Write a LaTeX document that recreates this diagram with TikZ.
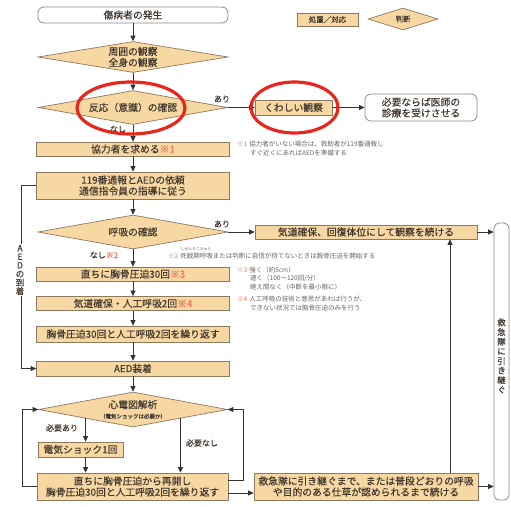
\documentclass[tikz,border=0pt]{standalone}
\usepackage{fontspec}
\setmainfont{Noto Sans CJK JP}[BoldFont=Noto Sans CJK JP, BoldFeatures={FakeBold=0.35}]
\usetikzlibrary{shapes.geometric,arrows.meta}
\definecolor{boxfill}{HTML}{F8D8A2}
\definecolor{boxline}{HTML}{8C7A5E}
\definecolor{txt}{HTML}{42382F}
\definecolor{note}{HTML}{6A6460}
\definecolor{mark}{HTML}{F07A5A}
\definecolor{ring}{HTML}{E8261C}
\definecolor{conn}{HTML}{333333}
\definecolor{termline}{HTML}{8A8A8A}
\tikzset{
  act/.style={rectangle, draw=boxline, fill=boxfill, line width=0.7pt, text=txt,
    font=\fontsize{9.8pt}{11pt}\selectfont\bfseries, inner sep=0pt, align=center},
  dec/.style={diamond, aspect=5.5, draw=boxline, fill=boxfill, line width=0.7pt, text=txt,
    font=\fontsize{9.8pt}{11pt}\selectfont\bfseries, inner sep=0pt, align=center},
  term/.style={rectangle, rounded corners=6pt, draw=termline, fill=white, line width=0.8pt,
    text=txt, font=\fontsize{9.8pt}{11pt}\selectfont\bfseries, inner sep=0pt, align=center},
  arr/.style={draw=conn, line width=0.8pt, -{Triangle[length=5.5pt,width=5pt]}},
  lbl/.style={text=txt, font=\fontsize{8pt}{9pt}\selectfont\bfseries, inner sep=0pt},
  fn/.style={text=note, font=\fontsize{6.5pt}{8pt}\selectfont, inner sep=0pt, anchor=west},
  ringline/.style={draw=ring, line width=3.2pt},
}
\begin{document}
\begin{tikzpicture}[x=1pt,y=-1pt]
\fill[white] (0,0) rectangle (511,506);
\useasboundingbox (0,0) rectangle (511,506);

% legend
\node[act, minimum width=61pt, minimum height=13pt, font=\fontsize{7.5pt}{8pt}\selectfont\bfseries] (lg1) at (327.5,19.5) {処置／対応};
\node[dec, aspect=3.2, minimum width=70pt, minimum height=22pt, font=\fontsize{7.5pt}{8pt}\selectfont\bfseries] (lg2) at (403,19) {判断};

% main column
\node[term, minimum width=190pt, minimum height=16pt] (hassei) at (133,15) {傷病者の発生};
\node[dec, minimum width=190pt, minimum height=31pt] (shui) at (133,57) {周囲の観察\\全身の観察};
\node[dec, minimum width=189pt, minimum height=34pt] (hanno) at (133,107.5) {反応（意識）の確認};
\node[act, minimum width=77pt, minimum height=15pt] (kuwashii) at (293.5,107.5) {くわしい観察};
\node[term, minimum width=112pt, minimum height=27pt] (ishi) at (421,107.5) {必要ならば医師の\\診療を受けさせる};
\node[act, minimum width=193pt, minimum height=14pt] (kyoryoku) at (133,149) {協力者を求める\textcolor{mark}{※1}};
\node[act, minimum width=193pt, minimum height=27pt] (tsuho) at (133,185.5) {119番通報とAEDの依頼\\通信指令員の指導に従う};
\node[dec, minimum width=190pt, minimum height=34pt] (kokyu) at (133,232) {呼吸の確認};
\node[act, minimum width=222pt, minimum height=14pt] (kido) at (366,232) {気道確保、回復体位にして観察を続ける};
\node[act, minimum width=193pt, minimum height=14pt] (asshaku) at (133,274) {直ちに胸骨圧迫30回\textcolor{mark}{※3}};
\node[act, minimum width=193pt, minimum height=14pt] (jinko) at (133,303.5) {気道確保・人工呼吸2回\textcolor{mark}{※4}};
\node[act, minimum width=193pt, minimum height=16pt] (kurikaeshi) at (133,334) {胸骨圧迫30回と人工呼吸2回を繰り返す};
\node[act, minimum width=193pt, minimum height=15pt] (aed) at (133,368.5) {AED装着};
\node[dec, minimum width=189pt, minimum height=35pt] (shinden) at (133,409.5) {心電図解析\\[-1pt]{\fontsize{5.5pt}{6pt}\selectfont（電気ショックは必要か）}};
\node[act, minimum width=85pt, minimum height=15pt] (denki) at (80.5,449.5) {電気ショック1回};
\node[act, minimum width=191pt, minimum height=27pt] (saikai) at (132.5,486.5) {直ちに胸骨圧迫から再開し\\胸骨圧迫30回と人工呼吸2回を繰り返す};
\node[act, minimum width=224pt, minimum height=27pt] (hikitsugu) at (366,486.5) {救急隊に引き継ぐまで、または普段どおりの呼吸\\や目的のある仕草が認められるまで続ける};
\node[term, rounded corners=5pt, minimum width=15pt, minimum height=277pt] (kyutai) at (501.5,361.5) {};
\node[text=txt, font=\fontsize{8.5pt}{9.6pt}\selectfont\bfseries, align=center, inner sep=0pt] (kyutaitxt) at (501.5,356) {救\\急\\隊\\に\\引\\き\\継\\ぐ};

% helper coordinates
\coordinate (aedx) at (21,0);
\coordinate (loopL) at (22,0);
\coordinate (loopR) at (243,0);
\coordinate (upx) at (450,0);

% connectors
\draw[arr] (hassei) -- (shui);
\draw[arr] (shui) -- (hanno);
\draw[arr] (hanno) -- (kyoryoku);
\draw[arr] (kyoryoku) -- (tsuho);
\draw[arr] (tsuho) -- (kokyu);
\draw[arr] (kokyu) -- (asshaku);
\draw[arr] (asshaku) -- (jinko);
\draw[arr] (jinko) -- (kurikaeshi);
\draw[arr] (kurikaeshi) -- (aed);
\draw[arr] (aed) -- (shinden);
\draw[arr] (hanno) -- (kuwashii);
\draw[arr] (kuwashii) -- (ishi);
\draw[arr] (kokyu) -- (kido);
\draw[arr] (kido.east) -- (kido.east -| kyutai.west);
\draw[arr] (tsuho.west) -- (tsuho.west -| aedx) -- (aed.west -| aedx) -- (aed.west);
\draw[arr] (shinden.south west) -- (shinden.south west |- denki.north);
\draw[arr] (denki.south -| shinden.south west) -- (saikai.north -| shinden.south west);
\draw[arr] (shinden.south east) -- (shinden.south east |- saikai.north);
\draw[arr] (saikai.west) -- (saikai.west -| loopL) -- (shinden.west -| loopL) -- (shinden.west);
\draw[arr] ([yshift=6.5pt]saikai.east) -- ([yshift=6.5pt]saikai.east -| loopR) -- (shinden.east -| loopR) -- (shinden.east);
\draw[arr] ([yshift=-6.5pt]saikai.east) -- ([yshift=-6.5pt]saikai.east -| hikitsugu.west);
\draw[arr] (hikitsugu.east) -- (hikitsugu.east -| kyutai.west);
\draw[arr] (hikitsugu.north -| upx) -- (kido.south -| upx);

% AED arrival label on the left line
\node[fill=white, text=txt, font=\fontsize{8.5pt}{8.6pt}\selectfont\bfseries, align=center, inner sep=1pt] (aedlbl) at (20,270) {A\\E\\D\\の\\到\\着};

% branch labels
\node[lbl] (l1) at (222,99) {あり};
\node[lbl] (l2) at (118,129) {なし};
\node[lbl] (l3) at (222,224) {あり};
\node[lbl] (l4) at (104,255) {なし\textcolor{mark}{※2}};
\node[lbl] (l5) at (62,428) {必要あり};
\node[lbl] (l6) at (202,443) {必要なし};

% footnotes
\node[fn] (n1a) at (237,144) {\textcolor{mark}{※1}\hspace{2pt}協力者がいない場合は、救助者が119番通報し};
\node[fn] (n1b) at (250,153) {すぐ近くにあればAEDを準備する};
\node[fn] (n2) at (168,256) {\textcolor{mark}{※2}\hspace{2pt}死戦期呼吸または判断に自信が持てないときは胸骨圧迫を開始する};
\node[text=note, font=\fontsize{3.8pt}{4pt}\selectfont, inner sep=0pt] (ruby) at (196,249.5) {しせんきこきゅう};
\node[fn] (n3a) at (237,270) {\textcolor{mark}{※3}\hspace{2pt}強く（約5cm）};
\node[fn] (n3b) at (250,278.5) {速く（100〜120回/分）};
\node[fn] (n3c) at (250,287) {絶え間なく（中断を最小限に）};
\node[fn] (n4a) at (237,299.5) {\textcolor{mark}{※4}\hspace{2pt}人工呼吸の技術と意思があれば行うが、};
\node[fn] (n4b) at (250,308) {できない状況では胸骨圧迫のみを行う};

% red rings
\draw[ringline] (131,108) ellipse [x radius=54pt, y radius=26pt];
\draw[ringline] (294.5,107.5) ellipse [x radius=43.5pt, y radius=25.5pt];
\end{tikzpicture}
\end{document}
